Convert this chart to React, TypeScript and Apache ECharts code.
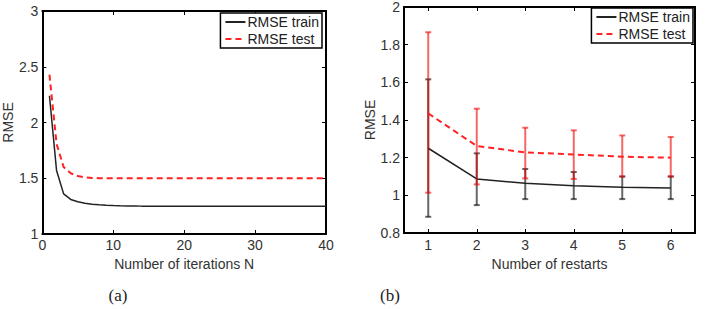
import React, { useEffect, useRef } from "react";
import * as echarts from "echarts";

// (a) iterations
const iterations = [1, 2, 3, 4, 5, 6, 7, 8, 9, 10, 11, 12, 13, 14, 15, 16, 17, 18, 19, 20, 21, 22, 23, 24, 25, 26, 27, 28, 29, 30, 31, 32, 33, 34, 35, 36, 37, 38, 39, 40];
const trainIter = [2.24, 1.57, 1.36, 1.31, 1.29, 1.275, 1.267, 1.262, 1.258, 1.255, 1.253, 1.252, 1.251, 1.25, 1.25, 1.25, 1.25, 1.25, 1.25, 1.25, 1.25, 1.25, 1.25, 1.25, 1.25, 1.25, 1.25, 1.25, 1.25, 1.25, 1.25, 1.25, 1.25, 1.25, 1.25, 1.25, 1.25, 1.25, 1.25, 1.25];
const testIter = [2.43, 1.81, 1.6, 1.545, 1.52, 1.508, 1.503, 1.501, 1.5, 1.5, 1.5, 1.5, 1.5, 1.5, 1.5, 1.5, 1.5, 1.5, 1.5, 1.5, 1.5, 1.5, 1.5, 1.5, 1.5, 1.5, 1.5, 1.5, 1.5, 1.5, 1.5, 1.5, 1.5, 1.5, 1.5, 1.5, 1.5, 1.5, 1.5, 1.5];

// (b) restarts
const restarts = ["1", "2", "3", "4", "5", "6"];
const trainRestart = [1.25, 1.087, 1.064, 1.051, 1.043, 1.039];
const trainLow = [0.886, 0.948, 0.98, 0.98, 0.98, 0.98];
const trainHigh = [1.616, 1.223, 1.14, 1.124, 1.1, 1.1];
const testRestart = [1.435, 1.262, 1.228, 1.217, 1.205, 1.2];
const testLow = [1.014, 1.058, 1.09, 1.087, 1.1, 1.1];
const testHigh = [1.866, 1.46, 1.359, 1.345, 1.318, 1.31];

const FONT = "'Liberation Sans', Arial, Helvetica, sans-serif";
const TXT = "#333";

const errRender = (color: string, width: number) => (params: any, api: any) => {
  const i = api.value(0);
  const lo = api.coord([i, api.value(1)]);
  const hi = api.coord([i, api.value(2)]);
  const cap = 3;
  const style = { stroke: color, lineWidth: width };
  return {
    type: "group",
    children: [
      { type: "line", shape: { x1: lo[0], y1: lo[1], x2: hi[0], y2: hi[1] }, style },
      { type: "line", shape: { x1: lo[0] - cap, y1: lo[1], x2: lo[0] + cap, y2: lo[1] }, style },
      { type: "line", shape: { x1: hi[0] - cap, y1: hi[1], x2: hi[0] + cap, y2: hi[1] }, style },
    ],
  };
};

const axisLine = { show: true, onZero: false, lineStyle: { color: "#000", width: 2 } };
const tick = { show: true, inside: true, length: 4, lineStyle: { color: "#000", width: 1 } };
const label = { fontSize: 14, color: TXT, fontFamily: FONT };
const nameStyle = { fontSize: 14, color: TXT, fontFamily: FONT };

export default function App() {
  const ref = useRef<HTMLDivElement>(null);
  useEffect(() => {
    document.body.style.margin = "0";
    if (!ref.current) return;
    const chart = echarts.init(ref.current, null, { renderer: "svg" });
    const legendBase = {
      orient: "vertical",
      data: ["RMSE train", "RMSE test"],
      backgroundColor: "#fff",
      borderColor: "#000",
      borderWidth: 1.5,
      padding: [2, 3, 2, 4],
      itemGap: 3,
      itemWidth: 20,
      itemHeight: 10,
      itemStyle: { opacity: 0 },
      textStyle: { fontSize: 14, color: "#222", fontFamily: FONT, padding: [0, 0, 0, -3] },
    };
    chart.setOption({
      animation: false,
      backgroundColor: "#fff",
      grid: [
        { left: 40, top: 11, width: 286, height: 223 },
        { left: 404, top: 7, width: 291, height: 226 },
      ],
      legend: [
        { ...legendBase, right: 383, top: 13 },
        { ...legendBase, right: 12, top: 8 },
      ],
      xAxis: [
        {
          gridIndex: 0, type: "value", min: 0, max: 40, interval: 10, position: "bottom",
          axisLine, axisTick: tick, axisLabel: { ...label, margin: 4 }, splitLine: { show: false },
          name: "Number of iterations N", nameLocation: "middle", nameGap: 17, nameTextStyle: nameStyle,
        },
        {
          gridIndex: 0, type: "value", min: 0, max: 40, interval: 10, position: "top",
          axisLine, axisTick: tick, axisLabel: { show: false }, splitLine: { show: false },
        },
        {
          gridIndex: 1, type: "category", data: restarts, boundaryGap: true, position: "bottom",
          axisLine, axisTick: { ...tick, alignWithLabel: true }, axisLabel: { ...label, margin: 5 },
          splitLine: { show: false },
          name: "Number of restarts", nameLocation: "middle", nameGap: 18, nameTextStyle: nameStyle,
        },
        {
          gridIndex: 1, type: "category", data: restarts, boundaryGap: true, position: "top",
          axisLine, axisTick: { ...tick, alignWithLabel: true }, axisLabel: { show: false },
          splitLine: { show: false },
        },
      ],
      yAxis: [
        {
          gridIndex: 0, type: "value", min: 1, max: 3, interval: 0.5, position: "left",
          axisLine, axisTick: tick, axisLabel: { ...label, margin: 4 }, splitLine: { show: false },
          name: "RMSE", nameLocation: "middle", nameGap: 24, nameTextStyle: nameStyle,
        },
        {
          gridIndex: 0, type: "value", min: 1, max: 3, interval: 0.5, position: "right",
          axisLine, axisTick: tick, axisLabel: { show: false }, splitLine: { show: false },
        },
        {
          gridIndex: 1, type: "value", min: 0.8, max: 2, interval: 0.2, position: "left",
          axisLine, axisTick: tick, axisLabel: { ...label, margin: 4 }, splitLine: { show: false },
          name: "RMSE", nameLocation: "middle", nameGap: 25, nameTextStyle: nameStyle,
        },
        {
          gridIndex: 1, type: "value", min: 0.8, max: 2, interval: 0.2, position: "right",
          axisLine, axisTick: tick, axisLabel: { show: false }, splitLine: { show: false },
        },
      ],
      series: [
        {
          name: "RMSE train", type: "line", xAxisIndex: 0, yAxisIndex: 0,
          data: iterations.map((n, i) => [n, trainIter[i]]),
          symbol: "none", lineStyle: { color: "#222", width: 1.5 }, itemStyle: { color: "#222" },
        },
        {
          name: "RMSE test", type: "line", xAxisIndex: 0, yAxisIndex: 0,
          data: iterations.map((n, i) => [n, testIter[i]]),
          symbol: "none", lineStyle: { color: "#f22", width: 2, type: [6, 4] }, itemStyle: { color: "#f22" },
        },
        {
          type: "custom", xAxisIndex: 2, yAxisIndex: 2,
          renderItem: errRender("rgba(0,0,0,0.6)", 2),
          data: restarts.map((_, i) => [i, trainLow[i], trainHigh[i]]),
          encode: { x: 0, y: [1, 2] }, z: 2,
        },
        {
          name: "RMSE train", type: "line", xAxisIndex: 2, yAxisIndex: 2,
          data: trainRestart,
          symbol: "none", lineStyle: { color: "#222", width: 1.5 }, itemStyle: { color: "#222" }, z: 3,
        },
        {
          type: "custom", xAxisIndex: 2, yAxisIndex: 2,
          renderItem: errRender("rgba(240,0,0,0.6)", 2),
          data: restarts.map((_, i) => [i, testLow[i], testHigh[i]]),
          encode: { x: 0, y: [1, 2] }, z: 4,
        },
        {
          name: "RMSE test", type: "line", xAxisIndex: 2, yAxisIndex: 2,
          data: testRestart,
          symbol: "none", lineStyle: { color: "#f22", width: 2, type: [6, 4] }, itemStyle: { color: "#f22" }, z: 5,
        },
      ],
      graphic: [
        { type: "text", x: 118, y: 295, style: { text: "(a)", fontSize: 17, fontFamily: "'Liberation Serif', 'DejaVu Serif', serif", fill: "#222", textAlign: "center", textVerticalAlign: "middle" } },
        { type: "text", x: 390, y: 295, style: { text: "(b)", fontSize: 17, fontFamily: "'Liberation Serif', 'DejaVu Serif', serif", fill: "#222", textAlign: "center", textVerticalAlign: "middle" } },
      ],
    });
    return () => chart.dispose();
  }, []);
  return <div ref={ref} style={{ width: 705, height: 309 }} />;
}
